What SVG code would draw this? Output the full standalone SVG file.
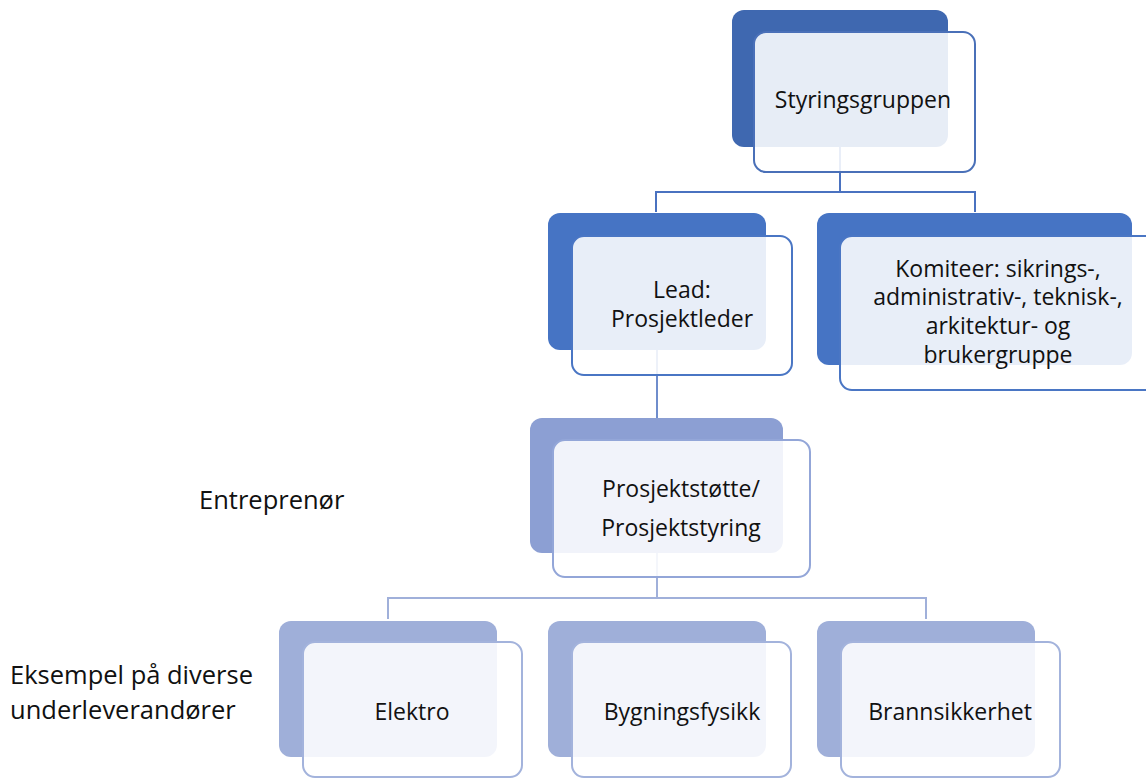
<svg xmlns="http://www.w3.org/2000/svg" width="1146" height="778" viewBox="0 0 1146 778">
  <style>
    text { font-family: "Open Sans", "Noto Sans", "Liberation Sans", sans-serif; fill: #111; }
    .t { font-size: 23px; text-anchor: middle; }
    .side { font-size: 25.5px; }
    .front { fill: #ffffff; fill-opacity: 0.88; stroke-width: 2; }
    .lvl1 .back { fill: #3f68b0; }
    .lvl1 .front { stroke: #4a70b8; }
    .lvl2 .back { fill: #4674c4; }
    .lvl2 .front { stroke: #4a76c4; }
    .lvl3 .back { fill: #8c9fd3; }
    .lvl3 .front { stroke: #93a6d8; }
    .lvl4 .back { fill: #9fafd9; }
    .lvl4 .front { stroke: #a3b3dc; }
    .conn { fill: none; stroke-width: 2; }
  </style>
  <rect width="1146" height="778" fill="#ffffff"/>

  <!-- connectors -->
  <g id="connectors">
    <path class="conn" stroke="#4a72c0" d="M840 147 V192 M656 212 V192 H975 V212"/>
    <path class="conn" stroke="#6f8dcc" d="M657 350 V418"/>
    <path class="conn" stroke="#a0b0da" d="M657 553 V598 M388 619 V598 H926 V619"/>
  </g>

  <!-- top level -->
  <g id="styringsgruppen" class="lvl1">
    <rect class="back" x="732" y="10" width="216" height="137" rx="12"/>
    <rect class="front" x="754" y="32" width="221" height="140" rx="12"/>
    <text class="t" x="863" y="108">Styringsgruppen</text>
  </g>

  <g id="prosjektleder" class="lvl2">
    <rect class="back" x="548" y="213" width="218" height="137" rx="12"/>
    <rect class="front" x="572" y="236" width="220" height="139" rx="12"/>
    <text class="t" x="682" y="298">Lead:</text>
    <text class="t" x="682" y="327">Prosjektleder</text>
  </g>

  <g id="komiteer" class="lvl2">
    <rect class="back" x="817" y="213" width="315" height="152" rx="12"/>
    <rect class="front" x="840" y="236" width="320" height="154" rx="12"/>
    <text class="t" x="998" y="277">Komiteer: sikrings-,</text>
    <text class="t" x="998" y="305">administrativ-, teknisk-,</text>
    <text class="t" x="998" y="334">arkitektur- og</text>
    <text class="t" x="998" y="363">brukergruppe</text>
  </g>

  <g id="prosjektstotte" class="lvl3">
    <rect class="back" x="530" y="418" width="253" height="135" rx="12"/>
    <rect class="front" x="553" y="440" width="257" height="137" rx="12"/>
    <text class="t" x="681" y="497">Prosjektstøtte/</text>
    <text class="t" x="681" y="536">Prosjektstyring</text>
  </g>

  <g id="elektro" class="lvl4">
    <rect class="back" x="279" y="621" width="218" height="136" rx="12"/>
    <rect class="front" x="303" y="642" width="219" height="135" rx="12"/>
    <text class="t" x="412" y="720">Elektro</text>
  </g>

  <g id="bygningsfysikk" class="lvl4">
    <rect class="back" x="548" y="621" width="218" height="136" rx="12"/>
    <rect class="front" x="572" y="642" width="219" height="135" rx="12"/>
    <text class="t" x="682" y="720">Bygningsfysikk</text>
  </g>

  <g id="brannsikkerhet" class="lvl4">
    <rect class="back" x="817" y="621" width="218" height="136" rx="12"/>
    <rect class="front" x="841" y="642" width="219" height="135" rx="12"/>
    <text class="t" x="950" y="720">Brannsikkerhet</text>
  </g>

  <!-- side labels -->
  <g id="labels">
    <text class="side" x="199" y="509">Entreprenør</text>
    <text class="side" x="10" y="684">Eksempel på diverse</text>
    <text class="side" x="10" y="719">underleverandører</text>
  </g>
</svg>
